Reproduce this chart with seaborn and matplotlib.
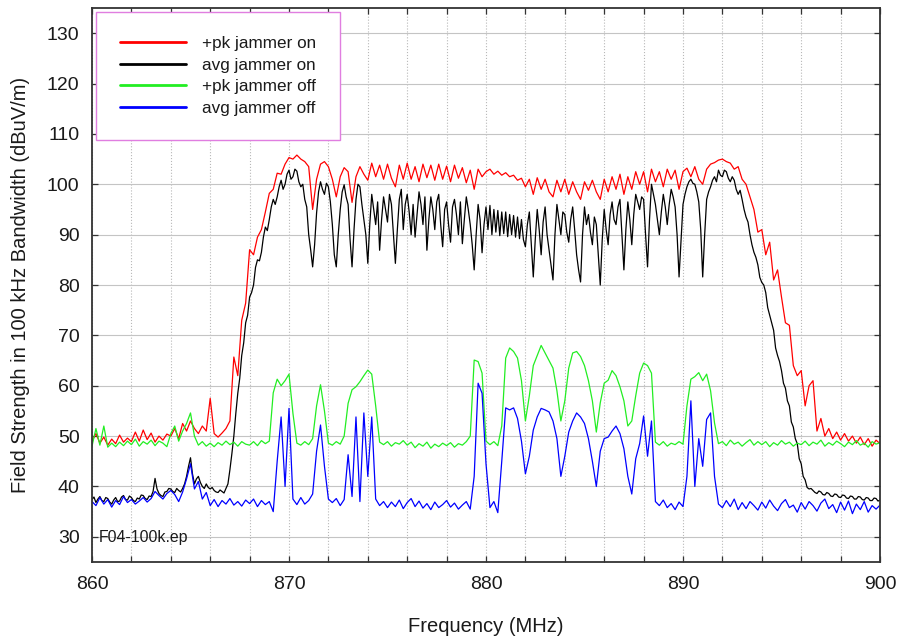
import numpy as np
import pandas as pd
import seaborn as sns
import matplotlib

matplotlib.use("Agg")
import matplotlib.pyplot as plt
from matplotlib.ticker import MultipleLocator

# sweep grids: 860 - 900 MHz, readings every 0.2 MHz (the avg/jammer-on trace every 0.1 MHz)
FREQ_MHZ = np.round(np.linspace(860.0, 900.0, 201), 1)
FREQ_FINE_MHZ = np.round(np.linspace(860.0, 900.0, 401), 1)

PK_JAMMER_ON = [
    49.0, 50.5, 48.6, 49.8, 48.2, 49.4, 48.5, 50.2, 48.8, 49.6,
    48.9, 50.8, 49.0, 51.2, 49.3, 50.6, 48.8, 50.0, 49.2, 50.4,
    50.0, 51.5, 49.5, 52.5, 51.0, 53.0, 51.5, 50.5, 52.0, 51.0,
    57.5, 50.5, 49.8, 50.6, 51.5, 53.0, 65.7, 62.0, 73.0, 76.4,
    87.0, 86.0, 89.5, 91.0, 94.5, 98.2, 99.0, 102.2, 102.0, 104.0,
    105.3, 105.0, 105.8, 105.0, 104.5, 103.5, 95.0, 101.0, 104.0, 104.5,
    103.5, 101.0, 97.5, 101.5, 103.3, 102.5, 96.4, 101.5, 103.5, 102.0,
    100.8, 104.2, 101.5, 103.8, 101.0, 104.0, 101.2, 99.5, 103.8, 101.0,
    104.2, 101.0, 103.5, 100.5, 104.0, 101.3, 103.8, 100.8, 104.0, 101.0,
    103.6, 100.5, 103.8, 101.2, 103.3, 100.3, 102.8, 99.0, 103.0, 101.5,
    102.5, 103.0, 102.0, 102.6, 101.8, 102.3, 101.5, 101.8, 100.8, 101.2,
    99.5, 101.0, 98.0, 101.3, 99.0, 101.0, 98.5, 97.5, 100.8, 98.5,
    101.0, 98.0, 100.5, 98.5, 97.0, 100.5, 98.8, 100.8, 98.5, 97.0,
    101.0, 98.5, 101.5, 99.0, 102.0, 98.0, 101.5, 99.0, 102.5, 100.0,
    102.5, 98.5, 103.0, 100.5, 102.5, 99.5, 103.0, 101.0, 102.8, 99.0,
    102.5, 103.2, 101.5, 103.5, 101.0, 100.0, 103.0, 104.0, 104.3, 104.8,
    105.0, 104.5, 104.2, 103.0, 103.5, 101.0, 100.0, 97.5, 95.0, 90.5,
    91.0, 86.0, 88.5, 81.0, 83.0, 77.6, 72.5, 72.0, 64.0, 62.0,
    63.0, 56.0, 60.0, 61.0, 51.0, 53.5, 50.0, 51.5, 49.5, 50.8,
    49.2, 50.5, 49.0, 50.0, 48.6, 49.8, 48.3, 49.5, 48.0, 49.2, 48.5,
]

# one row per MHz (0.1 MHz steps)
AVG_JAMMER_ON = [
    37.4, 37.9, 36.8, 37.5, 38.0, 37.2, 37.0, 37.8, 37.6, 36.9,
    36.5, 37.3, 37.8, 37.0, 37.1, 37.9, 38.2, 37.4, 37.3, 38.1,
    37.8, 37.2, 37.0, 37.7, 37.5, 38.3, 38.2, 37.6, 37.4, 38.1,
    38.0, 39.0, 41.6, 39.5, 38.6, 38.2, 38.0, 38.9, 39.0, 39.6,
    39.5, 39.0, 38.8, 39.6, 39.2, 38.9, 39.6, 40.5, 42.0, 44.0,
    45.7, 42.5, 40.5, 41.5, 42.0, 40.8, 40.0, 39.6, 40.5, 39.8,
    39.5, 39.8, 39.2, 38.9, 38.8, 39.3, 39.0, 38.7, 39.6, 40.5,
    43.3, 46.5, 50.0, 54.5, 58.5, 61.5, 66.0, 68.5, 72.5, 74.0,
    77.6, 78.5, 80.0, 83.5, 85.0, 84.8, 86.5, 89.5, 91.5, 90.8,
    93.0, 95.5, 97.0, 96.0, 97.5, 99.5, 100.8, 99.0, 100.0, 102.0,
    102.8, 101.0, 101.5, 103.0, 102.6, 100.5, 99.5, 100.0, 97.0, 95.5,
    90.0, 87.0, 83.6, 88.0, 94.3, 98.5, 100.5, 99.0, 98.0, 100.2,
    99.5, 96.5, 92.0, 86.0, 83.6, 90.0, 95.0, 98.5, 99.9, 97.5,
    96.0, 89.0, 83.6, 91.0, 97.0, 100.0, 99.5, 96.0, 93.0, 90.0,
    84.3, 92.0, 98.0, 95.0, 92.0, 96.5, 86.9, 93.0, 97.5, 95.0,
    92.5, 98.0, 96.0, 90.0, 84.3, 91.0, 97.0, 99.0, 91.0, 96.0,
    98.0, 94.5, 90.0, 96.0, 89.5, 94.0, 98.5, 96.0, 92.0, 97.5,
    86.9, 93.0, 97.5, 95.0, 91.0, 96.5, 98.0, 92.0, 87.6, 95.0,
    96.5, 92.0, 88.5, 95.5, 97.0, 94.0, 90.0, 96.5, 88.2, 93.0,
    97.5, 95.0, 92.0, 88.0, 83.0, 90.0, 96.0, 93.0, 86.4, 92.0,
    95.5, 91.0, 95.8, 90.0, 95.0, 90.5, 94.8, 89.8, 94.5, 90.2,
    94.5, 89.6, 94.0, 90.0, 93.8, 89.5, 93.5, 89.2, 93.0, 89.0,
    87.6, 92.0, 94.5, 88.0, 81.6, 89.0, 95.0, 91.0, 86.0, 92.5,
    95.5, 90.0, 87.0, 84.0, 81.0, 90.0, 96.0, 93.0, 90.0, 94.5,
    94.0, 90.5, 88.5, 93.0, 95.5, 91.0, 86.0, 83.0, 80.6, 90.0,
    95.5, 92.0, 94.0, 90.5, 88.0, 93.5, 92.0, 86.0, 80.0, 89.0,
    95.0, 91.0, 88.0, 94.0, 96.5, 93.0, 92.0, 95.5, 97.0, 90.0,
    83.0, 91.0, 96.5, 93.0, 88.0, 94.0, 98.0, 96.5, 95.0, 97.5,
    97.0, 90.0, 83.6, 93.0, 100.0, 98.0, 96.0, 93.0, 90.0, 94.5,
    98.0, 95.5, 92.0, 96.0, 99.0, 97.5, 95.5, 90.0, 81.6, 89.0,
    96.0, 98.0, 99.5, 100.5, 101.0, 100.2, 100.0, 98.5, 96.5, 91.0,
    81.6, 90.0, 97.0, 98.5, 99.5, 100.8, 101.5, 100.5, 102.8, 101.8,
    101.5, 102.8, 102.5, 101.2, 100.5, 101.5, 100.8, 99.0, 98.0, 98.8,
    97.0, 95.0, 93.5, 92.5, 90.0, 88.0, 86.5, 85.5, 84.0, 81.5,
    80.5, 80.0, 78.5, 75.5, 74.0, 72.5, 71.0, 67.5, 66.0, 64.8,
    63.0, 60.5, 59.5, 57.0, 56.0, 52.8, 51.8, 49.5, 48.5, 45.5,
    44.5, 42.0, 41.3, 39.8, 39.5, 39.6, 39.2, 38.8, 38.6, 39.1,
    38.9, 38.4, 38.3, 38.8, 38.6, 38.1, 38.0, 38.5, 38.4, 37.9,
    37.8, 38.3, 38.2, 37.7, 37.6, 38.1, 38.0, 37.5, 37.5, 38.0,
    37.9, 37.4, 37.3, 37.8, 37.7, 37.2, 37.2, 37.7, 37.6, 37.1,
    37.3,
]

PK_JAMMER_OFF = [
    48.0, 51.5, 48.2, 52.0, 47.8, 48.6, 47.9, 48.8, 48.1, 49.0,
    48.3, 49.4, 48.0, 48.9, 48.4, 49.2, 48.1, 49.0, 48.6, 47.9,
    50.5, 52.0, 49.0, 51.0, 52.5, 54.6, 50.0, 48.2, 48.9, 48.0,
    48.6, 47.9, 48.7, 48.2, 49.0, 48.3, 48.8, 48.0, 48.9, 48.4,
    48.2, 48.9, 48.1, 49.1, 48.5, 49.0, 58.6, 61.3, 60.0, 61.0,
    62.3, 54.5, 48.6, 48.2, 48.9, 48.3, 49.5, 56.0, 60.2, 55.0,
    48.6, 48.2, 48.9, 48.4, 50.0, 56.5, 59.2, 59.8, 60.8, 62.0,
    63.1, 62.3, 56.0, 48.8, 48.3, 48.9, 48.0, 48.7, 48.4, 49.1,
    48.2, 48.8, 47.7, 48.5, 48.0, 48.8, 47.6, 48.4, 47.9, 48.6,
    48.1, 48.7, 47.8, 48.5, 48.2, 48.9, 50.0, 65.1, 64.8, 62.5,
    49.0, 48.3, 48.9, 48.1, 52.0, 65.5, 67.5, 66.8, 65.5, 61.0,
    53.0, 58.0, 64.0, 66.0, 68.0, 66.5, 65.0, 63.5, 59.0, 53.0,
    57.0, 63.5, 66.5, 66.8, 65.8, 64.0, 61.0, 57.0, 50.8, 56.6,
    60.5, 61.1, 63.0, 62.0, 59.8, 57.0, 52.0, 53.0, 58.0, 62.5,
    64.5, 64.0, 62.5, 48.8, 48.2, 48.9, 48.0, 48.6, 48.3, 48.9,
    48.4, 56.0, 61.3, 61.8, 62.6, 61.0, 62.3, 59.0, 52.6, 48.5,
    48.9, 48.1, 49.2, 48.4, 48.8, 48.0, 48.7, 49.3, 48.2, 48.9,
    48.3, 48.9, 47.9, 48.7, 48.2, 49.1, 48.4, 48.8, 48.0, 48.6,
    48.3, 49.0, 48.1, 48.8, 48.4, 49.2, 48.0, 48.7, 48.2, 49.0,
    48.5, 47.9, 48.8, 48.3, 49.1, 48.2, 48.6, 47.8, 48.9, 48.4, 48.7,
]

AVG_JAMMER_OFF = [
    37.0, 36.2, 37.8, 36.5, 37.4, 35.9, 37.2, 36.4, 38.0, 36.8,
    37.4, 36.5, 37.1, 37.8, 36.9, 37.6, 39.0, 38.2, 37.5, 38.6,
    39.2, 38.4, 37.0, 38.9, 41.5, 44.5, 39.5, 41.0, 37.5, 38.8,
    36.2, 37.4, 36.0, 37.2, 36.5, 37.6, 36.3, 37.0, 36.1, 37.3,
    36.6, 37.5, 36.0, 37.2, 36.4, 37.0, 35.0, 45.0, 53.8, 40.0,
    55.5, 37.5, 36.4, 37.8, 36.5, 37.2, 38.5, 47.0, 52.2, 44.0,
    37.5, 36.8, 37.6, 36.2, 37.4, 46.3, 38.0, 53.8, 37.0, 54.6,
    42.0, 53.8, 37.5, 36.2, 37.0, 35.8, 36.9, 36.0, 37.3, 35.6,
    36.8, 37.6, 36.0, 37.1, 35.7, 36.6, 35.4, 36.9, 35.8, 36.4,
    37.2, 35.9, 36.7, 35.5, 36.3, 37.0, 35.5, 42.0, 60.5, 58.5,
    44.5, 35.8, 37.0, 34.8, 45.0, 55.6, 55.2, 55.6, 53.5, 49.0,
    42.5, 46.0, 51.2, 53.8, 55.5, 55.2, 54.8, 53.0, 49.5, 42.0,
    46.0, 50.8, 53.0, 54.6, 53.8, 52.5, 49.5, 45.0, 40.0, 47.0,
    49.5, 49.8, 51.0, 52.0, 50.5, 47.5, 42.0, 38.5, 45.5, 48.5,
    54.0, 46.0, 53.0, 37.0, 36.2, 37.3, 35.8, 36.6, 35.4, 36.9,
    36.0, 42.0, 57.0, 40.0, 49.5, 44.0, 53.3, 54.6, 42.0, 36.5,
    35.8, 37.2, 36.0, 37.5, 35.4, 36.8, 35.6, 37.0, 36.2, 35.3,
    36.9, 35.7, 37.3, 36.1, 35.2, 36.6, 37.4, 35.8, 36.3, 34.9,
    36.8, 35.5, 37.0, 36.2, 35.1, 36.7, 37.5, 35.6, 36.4, 34.8,
    36.9, 35.3, 37.1, 34.6, 36.5, 35.4, 37.0, 34.9, 36.2, 35.5, 36.3,
]

SERIES = [
    ("+pk jammer on", FREQ_MHZ, PK_JAMMER_ON, "#ff0000"),
    ("avg jammer on", FREQ_FINE_MHZ, AVG_JAMMER_ON, "#000000"),
    ("+pk jammer off", FREQ_MHZ, PK_JAMMER_OFF, "#22ee22"),
    ("avg jammer off", FREQ_MHZ, AVG_JAMMER_OFF, "#0000ff"),
]

for name, freqs, values, _ in SERIES:
    assert len(values) == len(freqs), (name, len(values))

sns.set_style("ticks")
plt.rcParams["font.family"] = ["Liberation Sans", "DejaVu Sans"]

fig = plt.figure(figsize=(9.01, 6.38), dpi=100)
ax = fig.add_axes([92 / 901, 1 - 562 / 638, 788 / 901, 554 / 638])

for name, freqs, values, color in SERIES:
    trace = pd.DataFrame({"freq": freqs, "level": values})
    sns.lineplot(data=trace, x="freq", y="level", color=color, linewidth=0.9,
                 label=name, ax=ax, sort=False)

ax.set_xlim(860, 900)
ax.set_ylim(25, 135)
ax.xaxis.set_major_locator(MultipleLocator(10))
ax.xaxis.set_minor_locator(MultipleLocator(2))
ax.set_yticks(np.arange(30, 131, 10))

ax.grid(axis="y", which="major", color="#c4c4c4", linestyle="-", linewidth=0.8)
ax.grid(axis="x", which="both", color="#b8b8b8", linestyle=":", linewidth=0.8)
ax.set_axisbelow(True)

ax.tick_params(axis="both", which="both", direction="in", top=True, right=True,
               length=4, width=0.9, color="#333333", labelsize=14, labelcolor="#1a1a1a")
ax.tick_params(axis="x", which="major", pad=10)
ax.tick_params(axis="y", which="major", pad=9)
for spine in ax.spines.values():
    spine.set_color("#333333")
    spine.set_linewidth(1.3)

ax.set_xlabel("Frequency (MHz)", fontsize=14.5, labelpad=17, color="#1a1a1a")
ax.set_ylabel("Field Strength in 100 kHz Bandwidth (dBuV/m)", fontsize=14.5,
              labelpad=12, color="#1a1a1a")

ax.text(0.008, 0.045, "F04-100k.ep", transform=ax.transAxes, fontsize=11.4,
        va="center", ha="left", color="#1a1a1a")

leg = ax.legend(loc="upper left", bbox_to_anchor=(0.005, 0.993), borderaxespad=0,
                fontsize=12.3, handlelength=3.9, handletextpad=0.9, labelspacing=0.4,
                borderpad=1.4, fancybox=False, framealpha=1, edgecolor="#e07ee0")
leg.get_frame().set_linewidth(1.0)
for line in leg.get_lines():
    line.set_linewidth(2.0)
for text in leg.get_texts():
    text.set_color("#1a1a1a")

fig.savefig("out.png", dpi=100)
